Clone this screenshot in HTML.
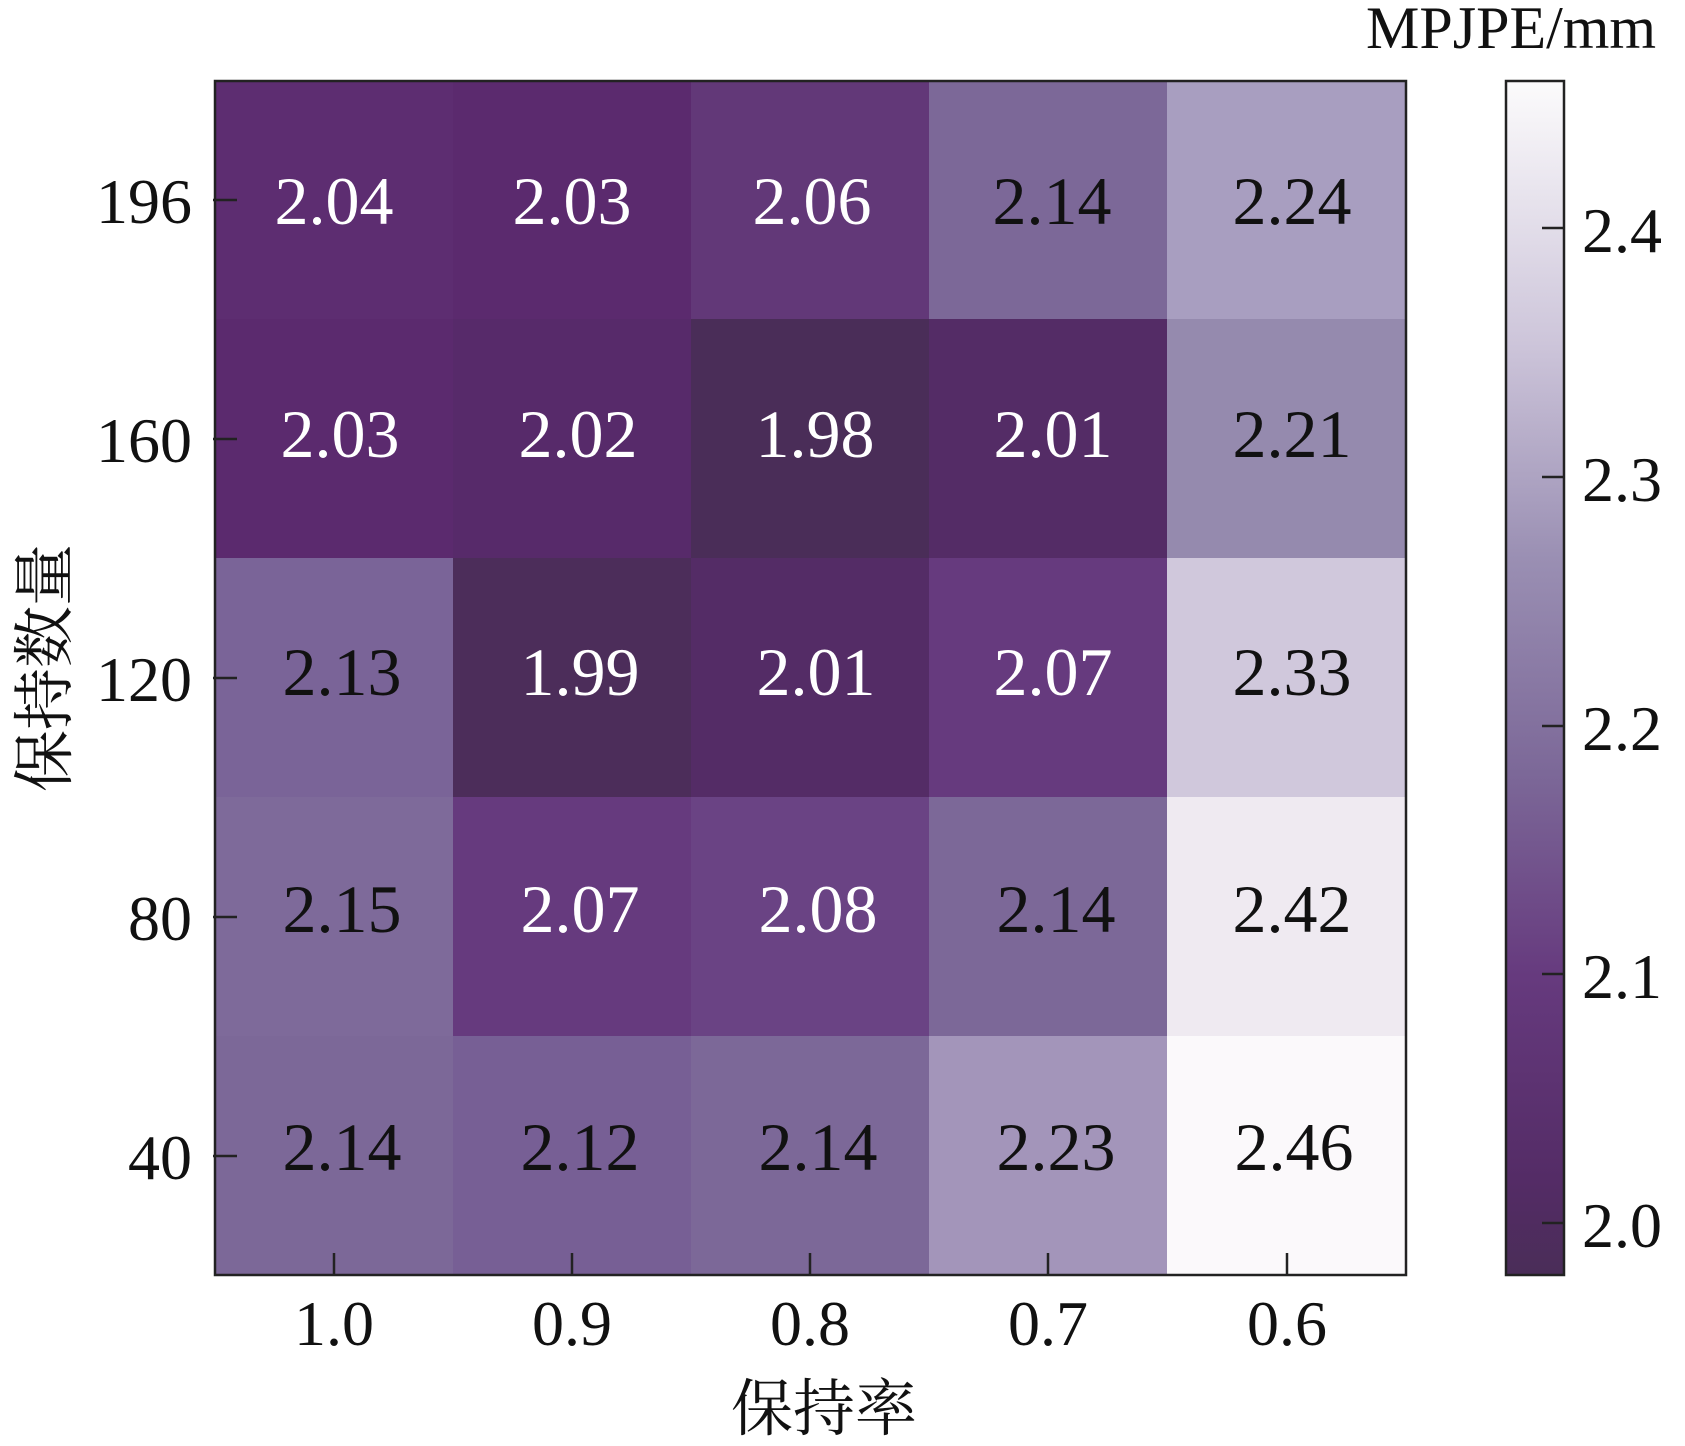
<!DOCTYPE html>
<html><head><meta charset="utf-8"><style>
html,body{margin:0;padding:0;background:#fff;}
svg text{font-family:"Liberation Serif","Noto Serif CJK SC",serif;}
</style></head><body>
<svg width="1685" height="1441" viewBox="0 0 1685 1441" xmlns="http://www.w3.org/2000/svg">
<defs>
<linearGradient id="cb" x1="0" y1="1" x2="0" y2="0">
<stop offset="0" stop-color="#4a2d58"/>
<stop offset="0.08" stop-color="#542c66"/>
<stop offset="0.25" stop-color="#663a7e"/>
<stop offset="0.42" stop-color="#7c6898"/>
<stop offset="0.6" stop-color="#9a8fb3"/>
<stop offset="0.78" stop-color="#cdc5da"/>
<stop offset="1" stop-color="#fcfbfc"/>
</linearGradient>
</defs>
<g stroke="none">
<rect x="215" y="81" width="239" height="239" fill="#5d2d71"/>
<rect x="453" y="81" width="239" height="239" fill="#5b2a6e"/>
<rect x="691" y="81" width="239" height="239" fill="#623878"/>
<rect x="929" y="81" width="239" height="239" fill="#7c6898"/>
<rect x="1167" y="81" width="239" height="239" fill="#a89ec0"/>
<rect x="215" y="319" width="239" height="240" fill="#5b2a6e"/>
<rect x="453" y="319" width="239" height="240" fill="#572a6a"/>
<rect x="691" y="319" width="239" height="240" fill="#4a2d58"/>
<rect x="929" y="319" width="239" height="240" fill="#542c66"/>
<rect x="1167" y="319" width="239" height="240" fill="#958aae"/>
<rect x="215" y="558" width="239" height="240" fill="#7a6498"/>
<rect x="453" y="558" width="239" height="240" fill="#4c2d5a"/>
<rect x="691" y="558" width="239" height="240" fill="#542c66"/>
<rect x="929" y="558" width="239" height="240" fill="#663a7e"/>
<rect x="1167" y="558" width="239" height="240" fill="#d0c8dc"/>
<rect x="215" y="797" width="239" height="240" fill="#7e6a9a"/>
<rect x="453" y="797" width="239" height="240" fill="#663a7e"/>
<rect x="691" y="797" width="239" height="240" fill="#6a4384"/>
<rect x="929" y="797" width="239" height="240" fill="#7c6898"/>
<rect x="1167" y="797" width="239" height="240" fill="#efeaf1"/>
<rect x="215" y="1036" width="239" height="239" fill="#7c6898"/>
<rect x="453" y="1036" width="239" height="239" fill="#775f95"/>
<rect x="691" y="1036" width="239" height="239" fill="#7c6898"/>
<rect x="929" y="1036" width="239" height="239" fill="#a395ba"/>
<rect x="1167" y="1036" width="239" height="239" fill="#fbf9fb"/>
</g>
<rect x="215" y="81" width="1191" height="1194" fill="none" stroke="#222" stroke-width="2.5"/>
<g font-size="68" text-anchor="middle">
<g fill="#fff">
<text x="334" y="224">2.04</text><text x="572" y="224">2.03</text><text x="812" y="224">2.06</text>
<text x="340" y="457">2.03</text><text x="578" y="457">2.02</text><text x="815" y="457">1.98</text><text x="1053" y="457">2.01</text>
<text x="580" y="695">1.99</text><text x="816" y="695">2.01</text><text x="1053" y="695">2.07</text>
<text x="580" y="932">2.07</text><text x="818" y="932">2.08</text>
</g>
<g fill="#111">
<text x="1052" y="224">2.14</text><text x="1292" y="224">2.24</text>
<text x="1292" y="457">2.21</text>
<text x="342" y="695">2.13</text><text x="1292" y="695">2.33</text>
<text x="342" y="932">2.15</text><text x="1056" y="932">2.14</text><text x="1292" y="932">2.42</text>
<text x="342" y="1170">2.14</text><text x="580" y="1170">2.12</text><text x="818" y="1170">2.14</text><text x="1056" y="1170">2.23</text><text x="1294" y="1170">2.46</text>
</g>
</g>
<g stroke="#222" stroke-width="2.5">
<line x1="213" y1="200" x2="237" y2="200"/><line x1="213" y1="439" x2="237" y2="439"/><line x1="213" y1="678" x2="237" y2="678"/><line x1="213" y1="917" x2="237" y2="917"/><line x1="213" y1="1156" x2="237" y2="1156"/>
<line x1="334" y1="1253" x2="334" y2="1275"/><line x1="572" y1="1253" x2="572" y2="1275"/><line x1="810" y1="1253" x2="810" y2="1275"/><line x1="1048" y1="1253" x2="1048" y2="1275"/><line x1="1287" y1="1253" x2="1287" y2="1275"/>
</g>
<g font-size="64" fill="#111" text-anchor="end">
<text x="192" y="223">196</text><text x="192" y="462">160</text><text x="192" y="701">120</text><text x="192" y="940">80</text><text x="192" y="1179">40</text>
</g>
<g font-size="64" fill="#111" text-anchor="middle">
<text x="334" y="1345">1.0</text><text x="572" y="1345">0.9</text><text x="810" y="1345">0.8</text><text x="1048" y="1345">0.7</text><text x="1287" y="1345">0.6</text>
<text x="824" y="1430" font-size="62">保持率</text>
<text transform="translate(66,668) rotate(-90)" font-size="62">保持数量</text>
</g>
<rect x="1506" y="81" width="58" height="1194" fill="url(#cb)" stroke="#222" stroke-width="2.5"/>
<g stroke="#222" stroke-width="2.5">
<line x1="1542" y1="228" x2="1564" y2="228"/><line x1="1542" y1="477" x2="1564" y2="477"/><line x1="1542" y1="726" x2="1564" y2="726"/><line x1="1542" y1="974" x2="1564" y2="974"/><line x1="1542" y1="1223" x2="1564" y2="1223"/>
</g>
<g font-size="64" fill="#111">
<text x="1582" y="252">2.4</text><text x="1582" y="501">2.3</text><text x="1582" y="750">2.2</text><text x="1582" y="998">2.1</text><text x="1582" y="1247">2.0</text>
<text x="1366" y="48" font-size="60">MPJPE/mm</text>
</g>
</svg>
</body></html>
